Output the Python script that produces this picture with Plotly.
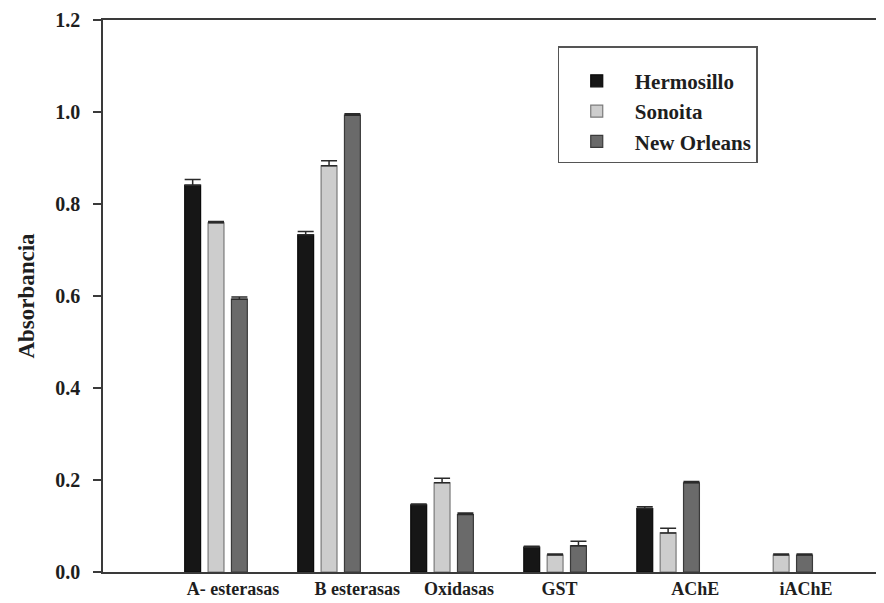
import plotly.graph_objects as go

categories = ["A- esterasas", "B esterasas", "Oxidasas", "GST", "AChE", "iAChE"]
hermosillo = [0.841, 0.733, 0.146, 0.054, 0.138, None]
sonoita = [0.759, 0.883, 0.194, 0.037, 0.085, 0.037]
new_orleans = [0.593, 0.993, 0.125, 0.057, 0.194, 0.037]
hermosillo_err = [0.012, 0.007, 0.002, 0.002, 0.004, 0.0]
sonoita_err = [0.003, 0.011, 0.010, 0.002, 0.010, 0.002]
new_orleans_err = [0.005, 0.003, 0.003, 0.010, 0.003, 0.002]

x = list(range(len(categories)))
serif = "Liberation Serif"

series = [
    ("Hermosillo", hermosillo, hermosillo_err, "#161616", "#0a0a0a"),
    ("Sonoita", sonoita, sonoita_err, "#cdcdcd", "#7a7a7a"),
    ("New Orleans", new_orleans, new_orleans_err, "#6a6a6a", "#3a3a3a"),
]

fig = go.Figure()
for name, vals, errs, fill, line in series:
    fig.add_trace(go.Bar(
        x=x, y=vals, name=name,
        marker=dict(color=fill, line=dict(color=line, width=1.2)),
        error_y=dict(type="data", array=errs, arrayminus=[0]*len(errs),
                     symmetric=False, color="#2a2a2a", thickness=1.5, width=8),
    ))

label_shift = [0.15, 0.25, 0.15, 0.04, 0.24, 0.22]
fig.update_layout(
    width=876, height=595,
    barmode="group", bargap=0.38, bargroupgap=0.32,
    plot_bgcolor="white", paper_bgcolor="white",
    margin=dict(l=95, r=0, t=12, b=31, autoexpand=False),
    font=dict(family=serif, color="#1e1e1e"),
    showlegend=True,
    legend=dict(
        x=0.582, y=0.952, xanchor="left", yanchor="top",
        bordercolor="#555555", borderwidth=1.2, bgcolor="white",
        font=dict(family=serif, size=21, color="#1e1e1e", weight=700),
        title=dict(text=" ", font=dict(size=10)),
        itemwidth=66, tracegroupgap=0,
    ),
    xaxis=dict(
        automargin=False,
        range=[-1.0, 5.91],
        tickmode="array",
        tickvals=[xi + s for xi, s in zip(x, label_shift)],
        ticktext=categories,
        tickfont=dict(family=serif, size=18, weight=700, color="#1e1e1e"),
        showline=True, linecolor="#3a3a3a", linewidth=1.5, mirror=True,
        ticks="", showgrid=False, zeroline=False,
    ),
    yaxis=dict(
        automargin=False,
        range=[0, 1.2],
        tickmode="array",
        tickvals=[0, 0.2, 0.4, 0.6, 0.8, 1.0, 1.2],
        ticktext=["0.0", "0.2", "0.4", "0.6", "0.8", "1.0", "1.2"],
        tickfont=dict(family=serif, size=20, weight=700, color="#1e1e1e"),
        ticks="outside", ticklen=8, tickwidth=1.5, tickcolor="#3a3a3a",
        ticklabelstandoff=9,
        showline=True, linecolor="#3a3a3a", linewidth=1.5,
        showgrid=False, zeroline=False,
        title=dict(text="Absorbancia", standoff=14,
                   font=dict(family=serif, size=23, weight=700, color="#1e1e1e")),
    ),
)

fig.write_html("out.html")
